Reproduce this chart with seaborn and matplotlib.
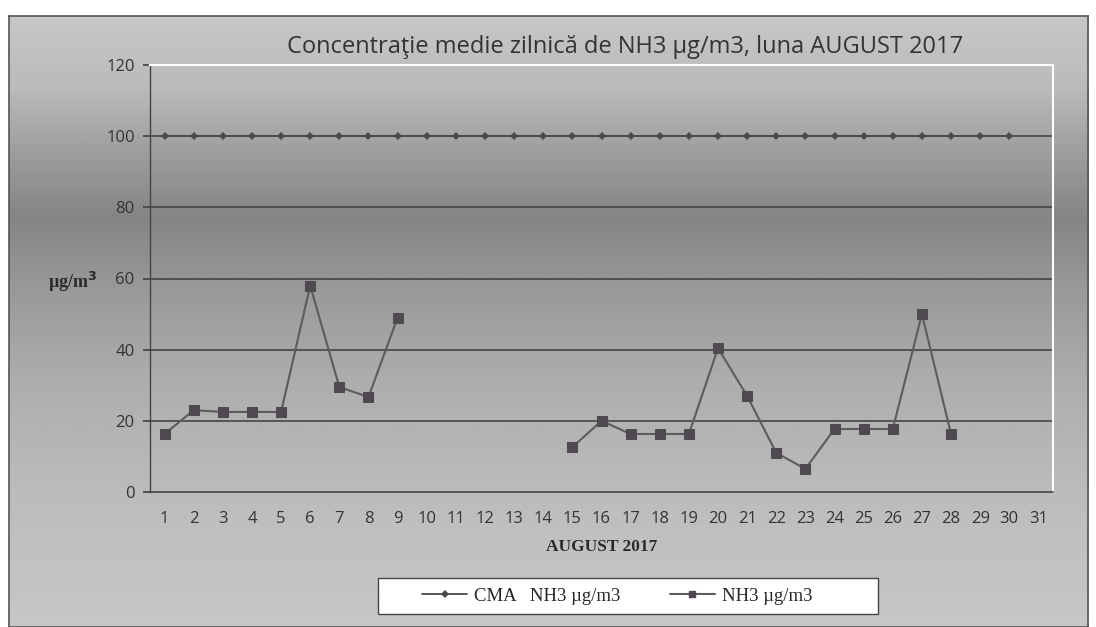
import numpy as np
import pandas as pd
import matplotlib
matplotlib.use("Agg")
import matplotlib.pyplot as plt
from matplotlib.lines import Line2D
from matplotlib.patches import Rectangle
import seaborn as sns

days = list(range(1, 32))
cma_days = list(range(1, 31))
cma_values = [100] * 30
nh3_days_a = [1, 2, 3, 4, 5, 6, 7, 8, 9]
nh3_values_a = [16.3, 23, 22.5, 22.5, 22.5, 58, 29.5, 26.7, 49]
nh3_days_b = [15, 16, 17, 18, 19, 20, 21, 22, 23, 24, 25, 26, 27, 28]
nh3_values_b = [12.6, 20, 16.3, 16.3, 16.3, 40.4, 27, 11, 6.5, 17.7, 17.7, 17.7, 50, 16.3]
yticks = [0, 20, 40, 60, 80, 100, 120]
title = "Concentraţie medie zilnică de NH3 µg/m3, luna AUGUST 2017"

sns.set_theme(style="white")
plt.rcParams['font.family'] = ['Open Sans', 'DejaVu Sans']

fig = plt.figure(figsize=(10.96, 6.27), dpi=100)
fig.patch.set_facecolor("white")

# background gradient over the chart frame
bg = fig.add_axes([0.008, 0.0, 0.985, 0.975], zorder=-10)
grad_pos = np.array([0.0, 0.12, 0.22, 0.33, 0.45, 0.60, 0.80, 1.0])
grad_val = np.array([0.78, 0.73, 0.62, 0.52, 0.60, 0.68, 0.74, 0.78])
yy = np.linspace(0, 1, 400)
col = np.interp(yy, grad_pos, grad_val)
img = np.repeat(col[:, None], 10, axis=1)
bg.imshow(img, cmap="gray", vmin=0, vmax=1, aspect="auto", extent=[0, 1, 1, 0])
bg.set_xticks([]); bg.set_yticks([])
for s in bg.spines.values():
    s.set_color("#555555"); s.set_linewidth(1.2)

ax = fig.add_axes([150/1096, 1 - 492/627, (1053-150)/1096, (492-65)/627])
ax.patch.set_alpha(0)

df_cma = pd.DataFrame({"day": cma_days, "val": cma_values})
df_a = pd.DataFrame({"day": nh3_days_a, "val": nh3_values_a})
df_b = pd.DataFrame({"day": nh3_days_b, "val": nh3_values_b})

line_col = "#4a4a4e"
nh3_col = "#5e5a60"
for yv in yticks[1:]:
    ax.axhline(yv, color="#3c3c40", lw=1.1, zorder=1)

sns.lineplot(data=df_cma, x="day", y="val", ax=ax, color=line_col, lw=1.3,
             marker="D", markersize=4, markeredgewidth=0, legend=False, zorder=3)
for d in (df_a, df_b):
    sns.lineplot(data=d, x="day", y="val", ax=ax, color=nh3_col, lw=1.5,
                 marker="s", markersize=6.5, markerfacecolor="#4e4a50",
                 markeredgecolor="#4e4a50", legend=False, zorder=4)

ax.set_xlim(0.5, 31.5)
ax.set_ylim(0, 120)
ax.set_yticks(yticks)
ax.set_yticklabels([str(v) for v in yticks], fontsize=12, color="#333333")
ax.set_xticks(days)
ax.set_xticklabels([str(d) for d in days], fontsize=12, color="#333333")
ax.set_xticks(np.arange(0.5, 32, 1), minor=True)
ax.tick_params(axis="x", which="major", length=0, pad=14)
ax.tick_params(axis="x", which="minor", length=5, color="#444444", direction="out")
ax.tick_params(axis="y", length=5, color="#444444", direction="out", left=True, pad=6)
for side in ("top", "right"):
    ax.spines[side].set_color("white"); ax.spines[side].set_linewidth(1.5)
ax.spines["left"].set_color("#444444"); ax.spines["bottom"].set_color("#444444")
ax.spines["left"].set_linewidth(1.0); ax.spines["bottom"].set_linewidth(1.2)

ax.set_xlabel("AUGUST 2017", fontsize=12.5, fontweight="bold",
              family=["Liberation Serif"], color="#2a2a2a", labelpad=8)
ax.set_ylabel("")
fig.text(48/1096, 1 - 282/627, r"µg/m$^{\mathbf{3}}$", fontsize=13, fontweight="bold",
         family=["Liberation Serif"], color="#2a2a2a", ha="left", va="center")
fig.text(625/1096, 1 - 47/627, title, fontsize=17, color="#333333",
         ha="center", va="center")

# legend box
fig.patches.append(Rectangle((378/1096, 1 - 614/627), 500/1096, 36/627,
                             transform=fig.transFigure, facecolor="white",
                             edgecolor="#444444", lw=1.0, zorder=5))
handles = [Line2D([], [], color=line_col, lw=1.3, marker="D", markersize=4, markeredgewidth=0),
           Line2D([], [], color=nh3_col, lw=1.5, marker="s", markersize=5,
                  markerfacecolor="#4e4a50", markeredgecolor="#4e4a50")]
leg = fig.legend(handles, ["CMA   NH3 µg/m3", "NH3 µg/m3"], ncol=2,
                 loc="center left", bbox_to_anchor=(422/1096, 1 - 596/627),
                 frameon=False, borderpad=0, borderaxespad=0,
                 prop={"family": "Liberation Serif", "size": 13.5},
                 handlelength=2.4, handletextpad=0.4, columnspacing=2.6)
leg.set_zorder(6)

fig.savefig("out.png", dpi=100)
